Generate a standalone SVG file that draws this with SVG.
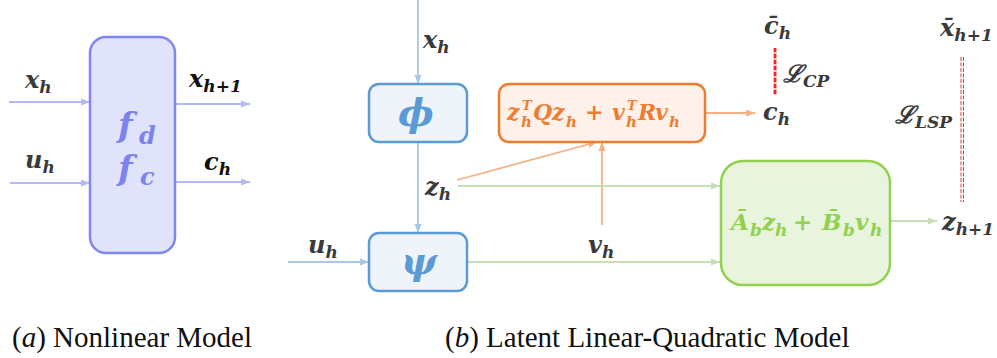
<svg xmlns="http://www.w3.org/2000/svg" width="997" height="358" viewBox="0 0 997 358">
<style>
.m{font-weight:bold;font-style:italic;fill:#3a3a3a;font-size:24px}
.s{font-size:17px}
.cap{font-size:29px;fill:#111}
.ln{fill:none;stroke-width:1.8}
.lav{stroke:#b3b8f7}
.blu{stroke:#a8c8ea}
.org{stroke:#f4b183}
.grn{stroke:#c5e0b4}
</style>
<defs>
<marker id="aL" markerUnits="userSpaceOnUse" markerWidth="10" markerHeight="8" refX="9" refY="4" orient="auto"><path d="M0,0.5 L9,4 L0,7.5 z" fill="#b3b8f7"/></marker>
<marker id="aB" markerUnits="userSpaceOnUse" markerWidth="10" markerHeight="8" refX="9" refY="4" orient="auto"><path d="M0,0.5 L9,4 L0,7.5 z" fill="#a8c8ea"/></marker>
<marker id="aO" markerUnits="userSpaceOnUse" markerWidth="10" markerHeight="8" refX="9" refY="4" orient="auto"><path d="M0,0.5 L9,4 L0,7.5 z" fill="#f4b183"/></marker>
<marker id="aG" markerUnits="userSpaceOnUse" markerWidth="10" markerHeight="8" refX="9" refY="4" orient="auto"><path d="M0,0.5 L9,4 L0,7.5 z" fill="#c5e0b4"/></marker>
</defs>

<g id="connectors">
<line class="ln lav" x1="9" y1="102" x2="90" y2="102" marker-end="url(#aL)"/>
<line class="ln lav" x1="10" y1="183" x2="90" y2="183" marker-end="url(#aL)"/>
<line class="ln lav" x1="175" y1="104" x2="250" y2="104" marker-end="url(#aL)"/>
<line class="ln lav" x1="176" y1="182" x2="250" y2="182" marker-end="url(#aL)"/>
<line class="ln blu" x1="418" y1="0" x2="418" y2="84" marker-end="url(#aB)"/>
<line class="ln blu" x1="418" y1="142" x2="418" y2="233" marker-end="url(#aB)"/>
<line class="ln blu" x1="288" y1="262" x2="369" y2="262" marker-end="url(#aB)"/>
<line class="ln org" x1="457" y1="180" x2="597" y2="142" marker-end="url(#aO)"/>
<line class="ln org" x1="602" y1="225" x2="602" y2="142" marker-end="url(#aO)"/>
<line class="ln org" x1="705" y1="113" x2="755" y2="113" marker-end="url(#aO)"/>
<line class="ln grn" x1="458" y1="186" x2="720" y2="186" marker-end="url(#aG)"/>
<line class="ln grn" x1="467" y1="262" x2="720" y2="262" marker-end="url(#aG)"/>
<line class="ln grn" x1="890" y1="221" x2="937" y2="221" marker-end="url(#aG)"/>
<g id="loss-lines">
<line x1="775" y1="48" x2="775" y2="95" stroke="#ffc0c0" stroke-width="3.5"/>
<line x1="775" y1="48" x2="775" y2="95" stroke="#ff2020" stroke-width="2.5" stroke-dasharray="4 2"/>
<line x1="961" y1="57" x2="961" y2="202" stroke="#ff3030" stroke-width="1" stroke-dasharray="4 1.5"/>
<line x1="963.5" y1="57" x2="963.5" y2="202" stroke="#ff3030" stroke-width="1" stroke-dasharray="4 1.5"/>
</g>
</g>

<g id="labels" font-family="'DejaVu Serif', 'Liberation Serif', serif">
<g id="nonlinear-box">
<rect x="90" y="37" width="85" height="216" rx="16" fill="#e1e3fb" stroke="#7f87f0" stroke-width="2.5"/>
<text class="m" style="fill:#7b83ee;font-size:34px" x="118" y="137">f<tspan class="s" style="font-size:24px" x="139" y="144">d</tspan></text>
<text class="m" style="fill:#7b83ee;font-size:34px" x="118" y="180">f<tspan class="s" style="font-size:24px" x="140" y="185">c</tspan></text>
</g>
<g id="left-labels">
<text class="m" x="25" y="88">x<tspan class="s" dy="5">h</tspan></text>
<text class="m" x="25" y="168">u<tspan class="s" dy="5">h</tspan></text>
<text class="m" style="fill:#111" x="189" y="87">x<tspan class="s" dy="5">h+1</tspan></text>
<text class="m" style="fill:#111" x="204" y="170">c<tspan class="s" dy="5">h</tspan></text>
</g>

<g id="phi">
<rect x="369" y="84" width="98" height="58" rx="10" fill="#eef4fa" stroke="#5b9bd5" stroke-width="2.5"/>
<text class="m" style="fill:#5b9bd5;font-size:38px" x="416" y="126" text-anchor="middle">ϕ</text>
</g>
<g id="psi">
<rect x="369" y="233" width="98" height="58" rx="10" fill="#eef4fa" stroke="#5b9bd5" stroke-width="2.5"/>
<text class="m" style="fill:#5b9bd5;font-size:38px" x="419" y="274" text-anchor="middle">ψ</text>
</g>
<g id="cost">
<rect x="499" y="84" width="206" height="58" rx="10" fill="#fdf1e9" stroke="#ed7d31" stroke-width="2.5"/>
<text class="m" style="fill:#ed7d31;font-size:22px">
<tspan x="507" y="120">z</tspan><tspan class="s" style="font-size:15px" x="521" y="127">h</tspan><tspan class="s" style="font-size:13px" x="522" y="110">T</tspan><tspan x="533" y="120">Q</tspan><tspan x="552" y="120">z</tspan><tspan class="s" style="font-size:15px" x="566" y="127">h</tspan><tspan x="585" y="120" style="font-style:normal">+</tspan><tspan x="612" y="120">v</tspan><tspan class="s" style="font-size:15px" x="626" y="127">h</tspan><tspan class="s" style="font-size:13px" x="627" y="110">T</tspan><tspan x="638" y="120">R</tspan><tspan x="655" y="120">v</tspan><tspan class="s" style="font-size:15px" x="669" y="127">h</tspan>
</text>
</g>
<g id="dynamics">
<rect x="721" y="161" width="169" height="124" rx="22" fill="#e8f5dc" stroke="#92d050" stroke-width="2.5"/>
<text class="m" style="fill:#92d050;font-size:23px">
<tspan x="731" y="230">Ā</tspan><tspan class="s" x="750" y="236">b</tspan><tspan x="762" y="230">z</tspan><tspan class="s" x="775" y="236">h</tspan><tspan x="793" y="230" style="font-style:normal">+</tspan><tspan x="822" y="230">B̄</tspan><tspan class="s" x="843" y="236">b</tspan><tspan x="855" y="230">v</tspan><tspan class="s" x="870" y="236">h</tspan>
</text>
</g>
<g id="right-labels">
<text class="m" x="423" y="48">x<tspan class="s" dy="5">h</tspan></text>
<text class="m" x="425" y="195">z<tspan class="s" dy="5">h</tspan></text>
<text class="m" x="308" y="253">u<tspan class="s" dy="5">h</tspan></text>
<text class="m" x="588" y="253">v<tspan class="s" dy="5">h</tspan></text>
<text class="m" x="764" y="34">c&#x304;<tspan class="s" dy="5">h</tspan></text>
<text class="m" x="763" y="120">c<tspan class="s" dy="5">h</tspan></text>
<text class="m" x="783" y="82">ℒ<tspan class="s" dy="5">CP</tspan></text>
<text class="m" x="895" y="123">ℒ<tspan class="s" dy="5">LSP</tspan></text>
<text class="m" x="940" y="36">x&#x304;<tspan class="s" dy="5">h+1</tspan></text>
<text class="m" x="942" y="230">z<tspan class="s" dy="5">h+1</tspan></text>
</g>
</g>
<g id="captions" font-family="'Liberation Serif', 'Times New Roman', serif">
<text class="cap" x="12" y="347">(<tspan font-style="italic">a</tspan>) Nonlinear Model</text>
<text class="cap" x="445" y="347">(<tspan font-style="italic">b</tspan>) Latent Linear-Quadratic Model</text>
</g>
</svg>
